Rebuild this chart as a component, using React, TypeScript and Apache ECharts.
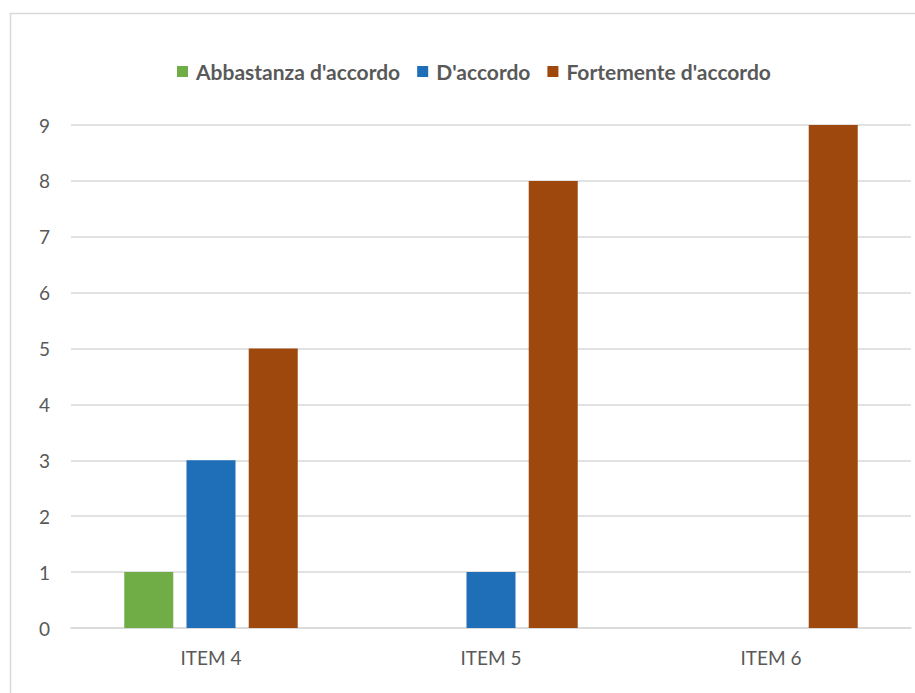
import React, { useEffect, useRef } from "react";
import * as echarts from "echarts";

// Survey answers per item
const categories = ["ITEM 4", "ITEM 5", "ITEM 6"];
const seriesNames = ["Abbastanza d'accordo", "D'accordo", "Fortemente d'accordo"];
const abbastanza = [1, 0, 0];
const daccordo = [3, 1, 0];
const fortemente = [5, 8, 9];
const colors = ["#70AD47", "#1F6FB8", "#9E480E"];

const FONT = "Lato, 'Open Sans', sans-serif";
const TEXT = "#595959";

export default function App() {
  const ref = useRef<HTMLDivElement>(null);

  useEffect(() => {
    if (!ref.current) return;
    const chart = echarts.init(ref.current, undefined, { renderer: "svg" });
    const values = [abbastanza, daccordo, fortemente];
    chart.setOption({
      animation: false,
      backgroundColor: "#ffffff",
      textStyle: { fontFamily: FONT },
      graphic: [
        {
          type: "rect",
          shape: { x: 10.5, y: 13.5, width: 1000, height: 1000 },
          style: { fill: "none", stroke: "#D9D9D9", lineWidth: 1.5 },
          silent: true,
        },
      ],
      legend: {
        top: 56,
        left: 172,
        itemWidth: 11,
        itemHeight: 11,
        itemGap: 17,
        icon: "rect",
        textStyle: {
          color: TEXT,
          fontSize: 21,
          fontWeight: "bold",
          fontFamily: FONT,
          padding: [0, 0, 0, 3],
        },
        data: seriesNames,
      },
      grid: { left: 71, right: 4, top: 125, bottom: 65, containLabel: false },
      xAxis: {
        type: "category",
        data: categories,
        axisLine: { show: true, lineStyle: { color: "#D9D9D9", width: 1.5 } },
        axisTick: { show: false },
        axisLabel: { color: TEXT, fontSize: 19, margin: 20, fontFamily: FONT },
      },
      yAxis: {
        type: "value",
        min: 0,
        max: 9,
        interval: 1,
        axisLine: { show: false },
        axisTick: { show: false },
        axisLabel: { color: TEXT, fontSize: 19, margin: 21, fontFamily: FONT },
        splitLine: { lineStyle: { color: "#D9D9D9", width: 1.5 } },
      },
      series: seriesNames.map((name, i) => ({
        name,
        type: "bar",
        data: values[i],
        barWidth: 49,
        barGap: "27%",
        itemStyle: { color: colors[i] },
      })),
    });
    return () => chart.dispose();
  }, []);

  return (
    <div
      ref={ref}
      style={{ position: "fixed", left: 0, top: 0, width: 915, height: 693 }}
    />
  );
}
